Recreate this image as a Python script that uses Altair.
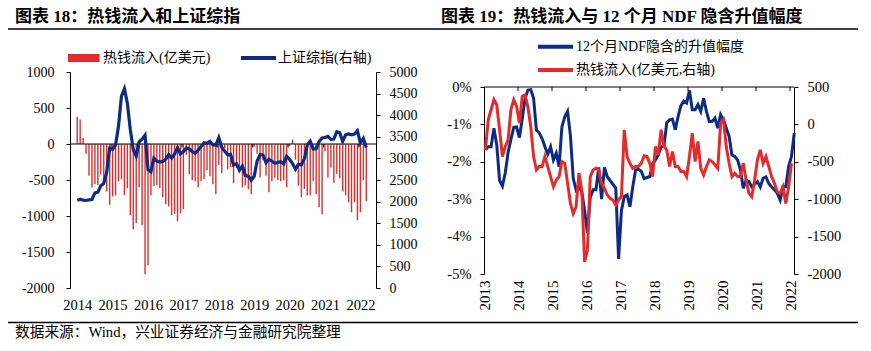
import altair as alt
import pandas as pd

# ---------------- 图表18: monthly, 2014-01 .. 2022-03 ----------------
hot_money_monthly = [
    380, 340, 85, -135, -440, -605, -555, -570, -425, -555, -660, -845,
    -727, -713, -519, -491, -713, -616, -991, -1185, -1102, -602, -1130, -1810,
    -1685, -713, -588, -574, -611, -741, -838, -866, -991, -968, -1074, -963,
    -907, -150, -421, -505, -519, -602, -519, -491, -366, -449, -560, -699,
    -292, -407, -60, -352, -324, -546, -333, -380, -602, -574, -630, -699,
    -40, -134, -467, -227, -440, -671, -519, -468, -505, -519, -505, -602,
    -30, 60, -218, -579, -741, -625, -717, -717, -519, -699, -880, -977,
    -100, -468, -329, -537, -412, -477, -657, -713, -810, -949, -810, -1060,
    -949, -505, -796,
]
sse_index = [
    2033, 2056, 2033, 2026, 2039, 2048, 2201, 2217, 2364, 2420, 2683, 3235,
    3210, 3310, 3748, 4441, 4612, 4277, 3664, 3206, 3053, 3383, 3445, 3539,
    2738, 2688, 3004, 2938, 2917, 2930, 2979, 3085, 3005, 3100, 3250, 3104,
    3159, 3242, 3223, 3155, 3117, 3192, 3273, 3361, 3349, 3393, 3317, 3307,
    3481, 3259, 3169, 3082, 3095, 2847, 2876, 2725, 2821, 2603, 2588, 2494,
    2585, 2941, 3091, 3078, 2899, 2979, 2933, 2886, 2905, 2929, 2872, 3050,
    2977, 2880, 2750, 2860, 2852, 2985, 3310, 3396, 3218, 3225, 3392, 3473,
    3483, 3509, 3442, 3447, 3615, 3591, 3397, 3544, 3568, 3547, 3564, 3640,
    3361, 3463, 3252,
]
years_18 = [2014, 2015, 2016, 2017, 2018, 2019, 2020, 2021, 2022]

# ---------------- 图表19: monthly, from 2013-01 ----------------
ndf_implied_pct = [
    -1.68, -1.60, -1.60, -1.10, -1.55, -2.50, -2.65, -2.30, -1.75, -1.40, -1.08, -1.07,
    -1.35, -0.85, -0.30, -0.08, -0.07, -0.30, -1.15, -1.23, -1.38, -1.60, -1.80, -1.60,
    -1.95, -1.77, -2.13, -1.06, -0.80, -0.65, -1.30, -2.45, -2.75, -2.65, -2.80, -3.30,
    -3.90, -2.95, -2.75, -2.75, -2.15, -3.00, -2.15, -2.40, -2.50, -2.60, -2.70, -4.60,
    -3.30, -2.93, -2.89, -3.20, -2.67, -2.22, -2.20, -2.25, -2.45, -2.42, -2.40, -2.05,
    -1.95, -1.82, -1.60, -1.59, -0.95, -0.88, -0.86, -1.14, -0.79, -0.50, -0.38, -0.43,
    -0.09, -0.61, -0.61, -0.47, -0.65, -0.30, -0.65, -0.92, -0.92, -0.83, -1.10, -0.74,
    -0.88, -1.10, -1.32, -1.82, -1.86, -1.95, -2.22, -2.71, -2.49, -2.53, -2.67, -2.60,
    -2.53, -2.67, -2.44, -2.40, -2.58, -2.67, -2.75, -2.84, -3.02, -2.67, -2.67, -2.13,
    -1.86, -1.23,
]
hot_money_rolling = [
    -341, 62, 196, 330, 263, -72, -430, -296, -207, 196, 330, 241,
    17, 375, 397, 230, -28, -430, -609, -564, -564, -430, -564, -698,
    -833, -743, -698, -497, -520, -788, -1056, -1190, -1101, -650, -877, -1839,
    -1682, -698, -609, -587, -609, -788, -855, -944, -989, -1012, -1079, -1012,
    -960, -72, -430, -520, -587, -564, -564, -520, -420, -430, -520, -698,
    -296, -408, -72, -296, -341, -564, -363, -564, -564, -631, -631, -698,
    -430, -117, -497, -229, -587, -676, -564, -475, -497, -540, -587, 17,
    62, -300, -520, -698, -654, -698, -698, -520, -743, -922, -967, -743,
    -475, -341, -520, -430, -564, -698, -788, -900, -922, -833, -1056, -833,
    -520,
]
years_19 = [2013, 2014, 2015, 2016, 2017, 2018, 2019, 2020, 2021, 2022]

RED = "#E32B2B"
NAVY = "#0D2B83"
SERIF = "Liberation Serif"
MIXED = "'Liberation Serif', 'Noto Sans CJK SC', sans-serif"

DUMMY = pd.DataFrame({"z": [0]})


def txt(s, x, y, size=14, weight="normal"):
    return alt.Chart(DUMMY).mark_text(
        text=s, align="left", baseline="middle", fontSize=size, font=MIXED,
        fontWeight=weight, color="black"
    ).encode(x=alt.value(x), y=alt.value(y))


def hrule(x1, x2, y, color="black", width=1.0):
    return alt.Chart(DUMMY).mark_rule(color=color, strokeWidth=width).encode(
        x=alt.value(x1), x2=alt.value(x2), y=alt.value(y))


def box(x1, x2, y1, y2, color):
    return alt.Chart(DUMMY).mark_rect(color=color).encode(
        x=alt.value(x1), x2=alt.value(x2), y=alt.value(y1), y2=alt.value(y2))


def yaxis(orient, values, expr, pad, size):
    return alt.Axis(orient=orient, values=values, labelExpr=expr, title=None,
                    grid=False, domain=True, domainColor="black", domainWidth=1,
                    ticks=True, tickSize=4, tickColor="black", tickWidth=1,
                    labelFont=SERIF, labelFontSize=size, labelColor="black",
                    labelPadding=pad, labelFlush=False, labelOverlap=False)


# ======================= Left panel (图表18) =======================
W1, H1 = 306, 216
df18 = pd.DataFrame({"m": list(range(len(hot_money_monthly))),
                     "flow": hot_money_monthly, "sse": sse_index, "z": 0})
x18 = alt.X("m:Q", scale=alt.Scale(domain=[-0.75, 99.6], nice=False, zero=False),
            axis=alt.Axis(values=[12 * (y - years_18[0]) for y in years_18],
                          labelExpr="'' + (%d + datum.value / 12)" % years_18[0],
                          domain=False, ticks=False, grid=False, title=None,
                          labelFont=SERIF, labelFontSize=14.5, labelColor="black",
                          labelPadding=10, labelAngle=0, labelFlush=False,
                          labelOverlap=False))
y18_scale = alt.Scale(domain=[-2000, 1000], nice=False)
y18_axis = yaxis("left", list(range(-2000, 1001, 500)), "'' + datum.value", 12, 14)
y18 = alt.Y("flow:Q", scale=y18_scale, axis=y18_axis)

bars = alt.Chart(df18).mark_bar(size=1.4, color=RED).encode(x=x18, y=y18)
zero_line = alt.Chart(DUMMY).mark_rule(color="black", strokeWidth=1).encode(
    y=alt.Y("z:Q", scale=y18_scale, axis=y18_axis))
tick18 = pd.DataFrame({"m": [12 * (y - years_18[0]) - 0.5 for y in years_18[1:]], "z": 0})
zero_ticks = alt.Chart(tick18).mark_rule(color="black", strokeWidth=1).encode(
    x=x18, y=alt.Y("z:Q", scale=y18_scale, axis=y18_axis), y2=alt.value(H1 / 3 + 3.5))

sse_line = alt.Chart(df18).mark_line(color=NAVY, strokeWidth=3.2).encode(
    x=x18,
    y=alt.Y("sse:Q", scale=alt.Scale(domain=[0, 5000], nice=False),
            axis=yaxis("right", list(range(0, 5001, 500)), "'' + datum.value", 9, 14)))

decor18 = [
    box(-70, -69, -72, -71, "white"),
    box(800, 801, 278, 279, "white"),
    txt("图表 18：热钱流入和上证综指", -55, -55.5, 17, "bold"),
    hrule(-62, 788, -43, "black", 1.3),
    box(-2, 29.5, -18, -10, RED),
    txt("热钱流入(亿美元)", 33, -14, 14),
    hrule(171, 206, -14, NAVY, 4),
    txt("上证综指(右轴)", 208, -14, 14),
    hrule(-62, 788, 250.5, "black", 1.3),
    txt("数据来源：Wind，兴业证券经济与金融研究院整理", -55, 261, 14.7),
]

left = alt.layer(
    alt.layer(bars, zero_line, zero_ticks, *decor18),
    sse_line,
).resolve_scale(y="independent").properties(width=W1, height=H1)

# ======================= Right panel (图表19) =======================
W2, H2 = 310, 216
TOP2, BOT2 = 15, 202
dfa = pd.DataFrame({"m": list(range(len(ndf_implied_pct))), "ndf": ndf_implied_pct})
dfb = pd.DataFrame({"m": list(range(len(hot_money_rolling))), "flow": hot_money_rolling})
x19 = alt.X("m:Q", scale=alt.Scale(domain=[-0.5, 108.9], nice=False, zero=False),
            axis=alt.Axis(values=[12 * (y - years_19[0]) - 0.5 for y in years_19],
                          labelExpr="'' + (%d + (datum.value + 0.5) / 12)" % years_19[0],
                          domain=False, ticks=False, grid=False, title=None,
                          labelFont=SERIF, labelFontSize=15, labelColor="black",
                          labelAngle=270, offset=-(H2 - BOT2), labelPadding=6,
                          labelFlush=False, labelOverlap=False))
y19_scale = alt.Scale(domain=[-5, 0], range=[BOT2, TOP2], nice=False, zero=False)
y19_axis = yaxis("left", [-5, -4, -3, -2, -1, 0], "datum.value + '%'", 9, 14.5)

ndf_line = alt.Chart(dfa).mark_line(color=NAVY, strokeWidth=3).encode(
    x=x19, y=alt.Y("ndf:Q", scale=y19_scale, axis=y19_axis))
top_line = alt.Chart(DUMMY).mark_rule(color="black", strokeWidth=1).encode(
    y=alt.Y("z:Q", scale=y19_scale, axis=y19_axis))
tick19 = pd.DataFrame({"m": [12 * (y - years_19[0]) - 0.5 for y in years_19[1:]], "z": 0})
top_ticks = alt.Chart(tick19).mark_rule(color="black", strokeWidth=1).encode(
    x=x19, y=alt.Y("z:Q", scale=y19_scale, axis=y19_axis), y2=alt.value(TOP2 + 4))

red_line = alt.Chart(dfb).mark_line(color=RED, strokeWidth=3).encode(
    x=x19,
    y=alt.Y("flow:Q", scale=alt.Scale(domain=[-2000, 500], range=[BOT2, TOP2], nice=False),
            axis=yaxis("right", list(range(-2000, 501, 500)), "'' + datum.value", 9, 14.5)))

decor19 = [
    txt("图表 19：热钱流入与 12 个月 NDF 隐含升值幅度", -43, -55.5, 17, "bold"),
    hrule(54, 89, -25.3, NAVY, 4),
    txt("12个月NDF隐含的升值幅度", 92, -25.3, 14),
    hrule(54, 89, -2, RED, 4),
    txt("热钱流入(亿美元,右轴)", 92, -2, 14),
]

right = alt.layer(
    alt.layer(ndf_line, top_line, top_ticks, *decor19),
    red_line,
).resolve_scale(y="independent").properties(width=W2, height=H2)

chart = alt.hconcat(left, right, spacing=108, bounds="flush").properties(
    padding=0, background="white"
).configure_view(stroke=None)

chart.save("out.html", embed_options={"renderer": "svg", "actions": False})
